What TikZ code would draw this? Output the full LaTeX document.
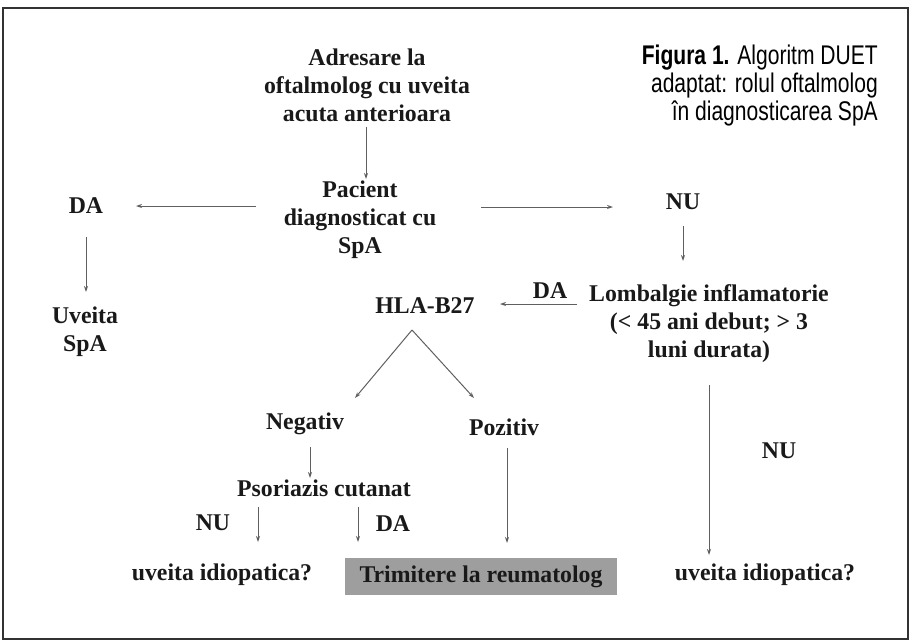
\documentclass[tikz,border=0pt]{standalone}
\usepackage{fontspec}
\setmainfont[FakeStretch=0.99]{Liberation Serif}
\newfontfamily\capfont[FakeStretch=0.78]{Liberation Sans}
\usetikzlibrary{arrows.meta,calc}
\definecolor{boxgray}{RGB}{158,158,158}
\definecolor{linegray}{RGB}{95,95,95}
\definecolor{framegray}{RGB}{50,50,50}
\tikzset{
  txt/.style={inner sep=0pt, align=center, font=\fontsize{24}{28}\selectfont\bfseries, text=black!90},
  arr/.style={draw=linegray, line width=1pt, -{Stealth[length=6pt,width=4pt]}},
  captxt/.style={inner sep=0pt, align=right, font=\fontsize{27}{28}\selectfont\capfont}
}
\begin{document}
\begin{tikzpicture}[x=1pt,y=-1pt]
\useasboundingbox (0,0) rectangle (911,641);
\draw[framegray, line width=2pt] (3,8) rectangle (908,639);
% caption
\node[captxt, anchor=east] (caption) at (878,86) {{\bfseries Figura 1.} Algoritm DUET\\adaptat: rolul oftalmolog\\în diagnosticarea SpA};
% nodes
\node[txt] (adr) at (367,85) {Adresare la\\oftalmolog cu uveita\\acuta anterioara};
\node[txt] (pac) at (360,220) {Pacient\\diagnosticat cu\\SpA};
\node[txt] (da1) at (86,206) {DA};
\node[txt] (nu1) at (683,202) {NU};
\node[txt] (uv) at (85,332) {Uveita\\SpA};
\node[txt] (hla) at (425,306) {HLA-B27};
\node[txt] (da2) at (550,291) {DA};
\node[txt] (lomb) at (709,324) {Lombalgie inflamatorie\\(< 45 ani debut; > 3\\luni durata)};
\node[txt] (neg) at (305,424) {Negativ};
\node[txt] (poz) at (504,427) {Pozitiv};
\node[txt] (pso) at (324,488) {Psoriazis cutanat};
\node[txt] (nu2) at (213,523) {NU};
\node[txt] (da3) at (393,524) {DA};
\node[txt] (uvi1) at (222,575) {uveita idiopatica?};
\node[txt, fill=boxgray, minimum width=272pt, minimum height=37pt] (trim) at (481,576.5) {Trimitere la reumatolog};
\node[txt] (uvi2) at (765,575) {uveita idiopatica?};
\node[txt] (nu3) at (779,451) {NU};
% connectors
\draw[arr] ($(adr)+(-1,42)$) -- ($(pac)+(6,-41)$);
\draw[arr] ($(pac)+(-104,-14)$) -- ($(da1)+(50,0)$);
\draw[arr] ($(pac)+(121,-13)$) -- ($(nu1)+(-70,5)$);
\draw[arr] ($(nu1)+(0,24)$) -- ($(lomb)+(-26,-63)$);
\draw[arr] ($(da1)+(0,31)$) -- ($(uv)+(1,-40)$);
\draw[arr] ($(lomb)+(-132,-20)$) -- ($(hla)+(75,-2)$);
\draw[arr] ($(hla)+(-13,24)$) -- ($(neg)+(50,-26)$);
\draw[arr] ($(hla)+(-13,24)$) -- ($(poz)+(-30,-29)$);
\draw[arr] ($(neg)+(5,23)$) -- ($(pso)+(-14,-10)$);
\draw[arr] ($(pso)+(-66,19)$) -- ($(uvi1)+(36,-33)$);
\draw[arr] ($(pso)+(34,19)$) -- ($(trim)+(-123,-34.5)$);
\draw[arr] ($(poz)+(3,21)$) -- ($(trim)+(26,-33.5)$);
\draw[arr] ($(lomb)+(0,61)$) -- ($(uvi2)+(-56,-20)$);
\end{tikzpicture}
\end{document}
